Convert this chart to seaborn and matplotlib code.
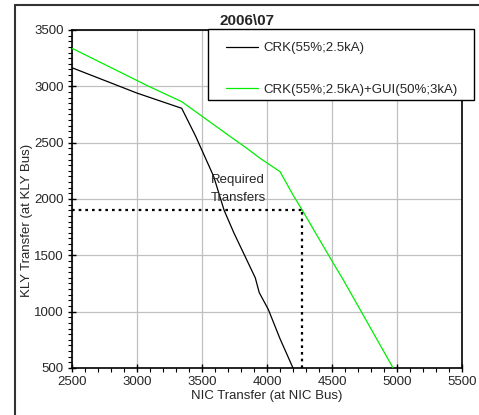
import matplotlib
matplotlib.use("Agg")
import matplotlib.pyplot as plt
from matplotlib.ticker import MultipleLocator
from matplotlib.lines import Line2D
from matplotlib.patches import Rectangle
import seaborn as sns
import pandas as pd

title = "2006\\07"
series1_name = "CRK(55%;2.5kA)"
series2_name = "CRK(55%;2.5kA)+GUI(50%;3kA)"
s1_x = [2500, 3000, 3344, 3450, 3590, 3670, 3745, 3910, 3940, 4010, 4100, 4200]
s1_y = [3165, 2940, 2805, 2560, 2200, 1900, 1700, 1300, 1170, 1020, 760, 500]
s2_x = [2500, 3085, 3344, 3754, 3845, 3946, 4100, 4200, 4267, 4510, 4587, 4970]
s2_y = [3338, 3003, 2864, 2524, 2450, 2362, 2243, 2036, 1909, 1430, 1282, 500]
req_x = 4270
req_y = 1900
x_ticks = [2500, 3000, 3500, 4000, 4500, 5000, 5500]
y_ticks = [500, 1000, 1500, 2000, 2500, 3000, 3500]

sns.set_theme(style="white")
plt.rcParams['font.family'] = ['Liberation Sans', 'DejaVu Sans']

df = pd.concat([
    pd.DataFrame({"x": s1_x, "y": s1_y, "series": series1_name}),
    pd.DataFrame({"x": s2_x, "y": s2_y, "series": series2_name}),
])

fig = plt.figure(figsize=(4.79, 4.15), dpi=100)
ax = fig.add_axes([72/479, 1-368/415, 390/479, 338/415])

sns.lineplot(data=df, x="x", y="y", hue="series", sort=False, estimator=None,
             palette={series1_name: "black", series2_name: "#00ee00"},
             linewidth=0.9, ax=ax, legend=False, zorder=3)

ax.plot([x_ticks[0], req_x], [req_y, req_y], color="black", lw=1.6,
        linestyle=(0, (1.2, 1.8)), zorder=4)
ax.plot([req_x, req_x], [y_ticks[0], req_y], color="black", lw=1.6,
        linestyle=(0, (1.2, 1.8)), zorder=4)

ax.text(3778, 2090, "Required\nTransfers", ha="center", va="center",
        fontsize=9.5, linespacing=1.6, zorder=5)

ax.set_xlim(x_ticks[0], x_ticks[-1])
ax.set_ylim(y_ticks[0], y_ticks[-1])
ax.set_xticks(x_ticks)
ax.set_yticks(y_ticks)
ax.xaxis.set_minor_locator(MultipleLocator(100))
ax.yaxis.set_minor_locator(MultipleLocator(50))
ax.tick_params(axis="both", which="major", direction="inout", length=6,
               width=1, labelsize=9.5, color="black", pad=3)
ax.tick_params(axis="both", which="minor", direction="out", length=3,
               width=0.8, color="black")
ax.tick_params(axis="x", which="both", bottom=True)
ax.tick_params(axis="y", which="both", left=True)
ax.grid(True, which="major", color="#c0c0c0", lw=0.9)
for sp in ax.spines.values():
    sp.set_color("black")
    sp.set_linewidth(1.2)

ax.set_xlabel("NIC Transfer (at NIC Bus)", fontsize=9.5, labelpad=1)
ax.set_ylabel("")
fig.text(27/479, 1-220/415, "KLY Transfer (at KLY Bus)", rotation=90,
         ha="center", va="center", fontsize=9.5)
fig.text(247/479, 1-21/415, title, ha="center", va="center",
         fontsize=11, fontweight="bold")

# legend box drawn as a rectangle, entries placed inside
box = Rectangle((208/479, 1-100/415), 266/479, 71/415, transform=fig.transFigure,
                facecolor="white", edgecolor="black", lw=1.0, zorder=9)
fig.add_artist(box)
handles = [Line2D([], [], color="black", lw=0.9),
           Line2D([], [], color="#00ee00", lw=0.9)]
leg = fig.legend(handles, [series1_name, series2_name], loc="upper left",
                 bbox_to_anchor=(226/479, 1-42/415),
                 fontsize=9.5, frameon=False, handlelength=2.45,
                 handletextpad=0.4, labelspacing=2.2, borderpad=0,
                 borderaxespad=0)
leg.set_zorder(10)

# outer chart frame
fig.add_artist(Line2D([15/479, 15/479], [0, 1-5/415], color="#333333", lw=1.5,
                      transform=fig.transFigure))
fig.add_artist(Line2D([15/479, 1], [1-5/415, 1-5/415], color="#333333", lw=1.5,
                      transform=fig.transFigure))

fig.savefig("out.png", dpi=100)
